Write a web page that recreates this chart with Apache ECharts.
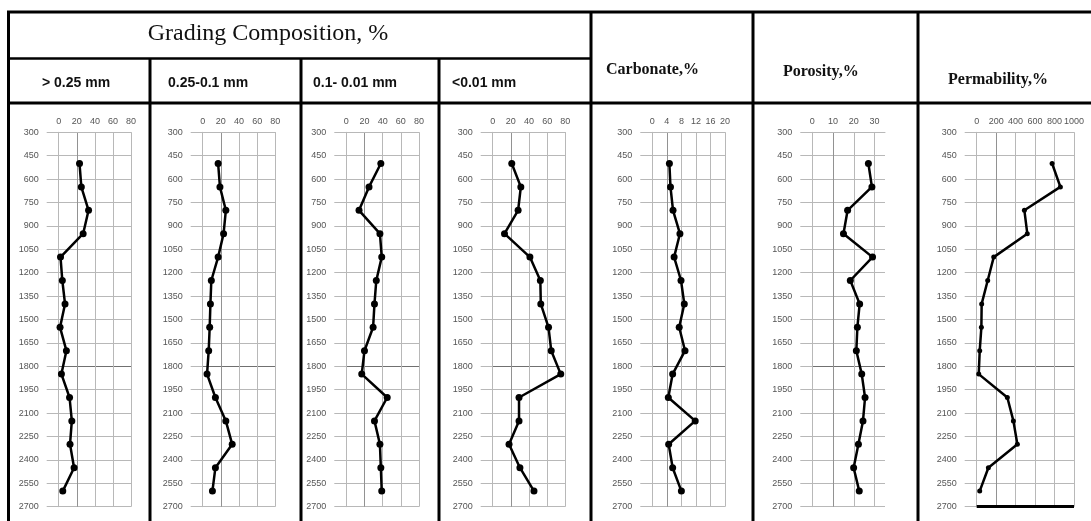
<!DOCTYPE html>
<html>
<head>
<meta charset="utf-8">
<script src="https://cdn.jsdelivr.net/npm/echarts@6/dist/echarts.min.js"></script>
<style>
  html, body { margin: 0; padding: 0; background: #fff; }
  #chart { width: 1091px; height: 521px; }
</style>
</head>
<body>
<div id="chart"></div>
<script>
// depth of each sample (m)
var depths = [500, 650, 800, 950, 1100, 1250, 1400, 1550, 1700, 1850, 2000, 2150, 2300, 2450, 2600];

// grading composition, %
var gradeCoarse = [23, 25, 33, 27, 2, 4, 7, 1.5, 8.5, 3, 12, 14.5, 12.5, 17, 4.5];      // > 0.25 mm
var gradeMedium = [17, 19, 25.5, 23, 17, 9.5, 8.5, 7.7, 6.6, 4.8, 14, 25.5, 32.5, 14, 10.7]; // 0.25-0.1 mm
var gradeFine = [38, 25, 14, 37, 39, 33, 31, 29.5, 20, 17, 45, 31, 37, 38, 39];         // 0.1-0.01 mm
var gradeClay = [21, 31, 28, 13, 41, 52.5, 53, 61.5, 64.5, 75, 29, 29, 18, 30, 45.5];    // <0.01 mm

// carbonate, porosity, permability
var carbonate = [4.7, 5.0, 5.7, 7.6, 6.0, 7.9, 8.8, 7.4, 9.0, 5.6, 4.4, 11.8, 4.5, 5.6, 8.0];
var porosity = [27, 28.7, 17, 15, 29, 18.3, 22.8, 21.7, 21.2, 23.8, 25.4, 24.4, 22.2, 19.9, 22.6];
var permability = [775, 860, 490, 520, 175, 113, 51, 48, 31, 21, 315, 377, 418, 120, 31];

// header texts
var titleText = 'Grading Composition, %';
var gradeHeads = ['> 0.25 mm', '0.25-0.1 mm', '0.1- 0.01 mm', '<0.01 mm'];
var otherHeads = ['Carbonate,%', 'Porosity,%', 'Permability,%'];

// panel setup: left/width of plot, x range
var panels = [
  { data: gradeCoarse, left: 58.7, width: 72.4, max: 80, interval: 20 },
  { data: gradeMedium, left: 202.7, width: 72.6, max: 80, interval: 20 },
  { data: gradeFine, left: 346.3, width: 72.7, max: 80, interval: 20 },
  { data: gradeClay, left: 492.7, width: 72.6, max: 80, interval: 20 },
  { data: carbonate, left: 652.3, width: 72.7, max: 20, interval: 4 },
  { data: porosity, left: 812.3, width: 72.7, max: 35, interval: 10 },
  { data: permability, left: 976.7, width: 97.3, max: 1000, interval: 200, small: true }
];

var gridTop = 132.3, gridHeight = 374.4;
var light = '#b8b8b8';
var labelFont = { fontFamily: 'Liberation Sans', fontSize: 9, color: '#555' };
function plain(v) { return String(v); }

// horizontal split line colours (1800 line darker)
var hColors = [];
for (var i = 0; i <= 16; i++) hColors.push(i === 10 ? '#707070' : light);

var grids = [], xAxes = [], yAxes = [], series = [];
panels.forEach(function (p, k) {
  grids.push({ left: p.left, top: gridTop, width: p.width, height: gridHeight });
  var n = Math.ceil(p.max / p.interval) + 1;
  var vColors = [];
  for (var j = 0; j <= n; j++) vColors.push(j === 1 ? '#929292' : light);
  var uneven = p.max % p.interval !== 0;
  if (uneven) vColors[n - 1] = 'transparent';
  xAxes.push({
    gridIndex: k, type: 'value', position: 'top', min: 0, max: p.max, interval: p.interval,
    axisLine: { show: true, lineStyle: { color: light, width: 1 } },
    axisTick: { show: false },
    axisLabel: Object.assign({ margin: 6, showMaxLabel: !uneven, formatter: plain }, labelFont),
    splitLine: { show: true, lineStyle: { color: vColors, width: 1 } }
  });
  yAxes.push({
    gridIndex: k, type: 'value', inverse: true, min: 300, max: 2700, interval: 150,
    axisLine: { show: true, lineStyle: { color: light, width: 1 } },
    axisTick: { show: true, inside: false, length: 12, lineStyle: { color: hColors } },
    axisLabel: Object.assign({ margin: 20, formatter: plain }, labelFont),
    splitLine: { show: true, lineStyle: { color: hColors, width: 1 } }
  });
  var s = {
    type: 'line', xAxisIndex: k, yAxisIndex: k,
    data: p.data.map(function (v, i) { return [v, depths[i]]; }),
    symbol: 'circle', symbolSize: p.small ? 5 : 7,
    lineStyle: { color: '#000', width: 2.5 },
    itemStyle: { color: '#000' },
    animation: false, silent: true
  };
  if (p.small) {
    // heavy base line at the bottom of the permability panel
    s.markLine = {
      silent: true, symbol: 'none', label: { show: false },
      lineStyle: { color: '#000', width: 3, type: 'solid' },
      data: [{ yAxis: 2700 }]
    };
  }
  series.push(s);
});

// table frame
function hline(x1, x2, y, w) {
  return { type: 'line', shape: { x1: x1, y1: y, x2: x2, y2: y }, style: { stroke: '#000', lineWidth: w } };
}
function vline(x, y1, y2, w) {
  return { type: 'line', shape: { x1: x, y1: y1, x2: x, y2: y2 }, style: { stroke: '#000', lineWidth: w } };
}
var graphics = [
  hline(7, 1091, 12, 3),
  hline(8, 591, 58.5, 2.5),
  hline(7, 1091, 103, 3),
  vline(8.5, 11, 521, 3),
  vline(150, 58, 521, 3),
  vline(301, 58, 521, 3),
  vline(439, 58, 521, 3),
  vline(591, 11, 521, 3),
  vline(753, 11, 521, 3),
  vline(918, 11, 521, 3)
];
graphics.push({
  type: 'text', x: 268, y: 34,
  style: { text: titleText, font: '24px "Liberation Serif"', fill: '#111', textAlign: 'center', textVerticalAlign: 'middle' }
});
var headX = [42, 168, 313, 452];
gradeHeads.forEach(function (t, i) {
  graphics.push({
    type: 'text', x: headX[i], y: 83,
    style: { text: t, font: 'bold 14px "Liberation Sans"', fill: '#111', textVerticalAlign: 'middle' }
  });
});
var otherX = [606, 783, 948], otherY = [70, 72, 80];
otherHeads.forEach(function (t, i) {
  graphics.push({
    type: 'text', x: otherX[i], y: otherY[i],
    style: { text: t, font: 'bold 16px "Liberation Serif"', fill: '#111', textVerticalAlign: 'middle' }
  });
});

var chart = echarts.init(document.getElementById('chart'));
chart.setOption({
  animation: false,
  backgroundColor: '#fff',
  grid: grids,
  xAxis: xAxes,
  yAxis: yAxes,
  series: series,
  graphic: graphics
});
</script>
</body>
</html>
